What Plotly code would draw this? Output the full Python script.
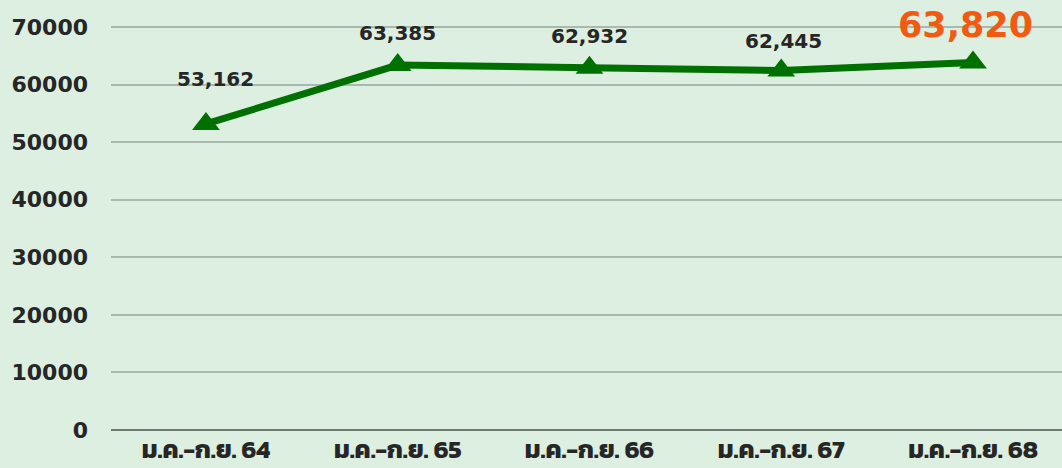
import plotly.graph_objects as go

categories = ["ม.ค.-ก.ย. 64", "ม.ค.-ก.ย. 65", "ม.ค.-ก.ย. 66", "ม.ค.-ก.ย. 67", "ม.ค.-ก.ย. 68"]
values = [53162, 63385, 62932, 62445, 63820]
tick_vals = [0, 10000, 20000, 30000, 40000, 50000, 60000, 70000]

THAI = "Kanit, 'Noto Sans Thai', 'Noto Sans', sans-serif"
NUM = "'DejaVu Sans', sans-serif"
BG = "#DCEFE0"

fig = go.Figure()
fig.add_trace(go.Scatter(
    x=list(range(len(categories))), y=values, mode="lines+markers",
    line=dict(color="#007000", width=7),
    marker=dict(symbol="triangle-up", size=24, color="#007000"),
    hoverinfo="skip", showlegend=False,
))

shifts = [45, 32, 32, 30, 38]
xshifts = [10, 0, 0, 2, -8]
for i, v in enumerate(values):
    last = i == len(values) - 1
    fig.add_annotation(
        x=i, y=v, text=f"{v:,}", showarrow=False, yshift=shifts[i], xshift=xshifts[i],
        font=dict(family=NUM, size=35 if last else 20,
                  color="#F25A12" if last else "#262626", weight="bold"),
    )

fig.update_layout(
    width=1062, height=468,
    margin=dict(l=111, r=0, t=0, b=38),
    paper_bgcolor=BG, plot_bgcolor=BG,
    font=dict(family=THAI, color="#262626", size=22),
    xaxis=dict(
        tickmode="array", tickvals=list(range(len(categories))), ticktext=categories,
        range=[-0.495, 4.464], showgrid=False, zeroline=False, showline=False,
        tickfont=dict(family=THAI, size=25, weight="bold", color="#262626"), ticks="",
        automargin=False, ticklabelstandoff=2,
    ),
    yaxis=dict(
        range=[0, 74690], tickvals=tick_vals, ticktext=[str(t) for t in tick_vals],
        showgrid=True, gridcolor="#AAB9AF", gridwidth=1.5,
        zeroline=True, zerolinecolor="#6E7A72", zerolinewidth=2,
        tickfont=dict(family=NUM, size=22, weight="bold", color="#262626"), ticks="",
        ticklabelstandoff=22, automargin=False,
    ),
)

fig.write_html(
    "out.html",
    config={"displayModeBar": False},
    post_script="document.body.style.margin='0';document.body.style.background='%s';" % BG,
)
